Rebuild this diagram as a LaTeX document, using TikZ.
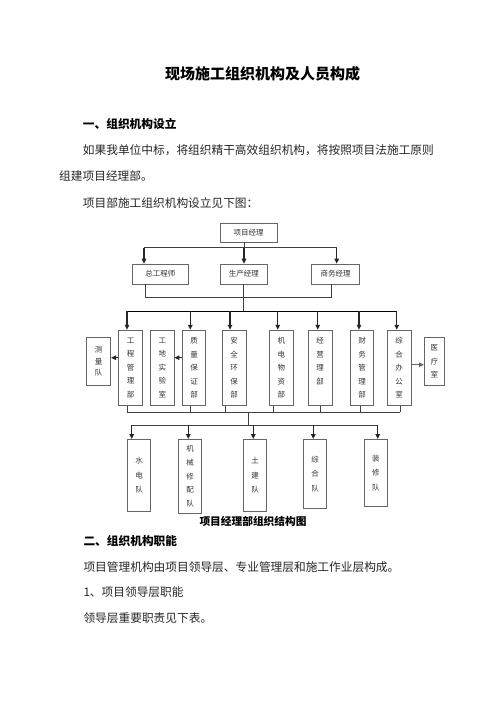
\documentclass[tikz,border=0pt]{standalone}
\usepackage{fontspec}
\setmainfont{Noto Sans CJK SC}
\usetikzlibrary{arrows.meta}

\begin{document}
\begin{tikzpicture}[x=1pt,y=-1pt]
   \tikzset{box/.style={draw=black!60,line width=0.6pt,inner sep=0pt,text=black!80,
      font=\fontsize{7.5}{9}\selectfont,minimum height=20pt}}
   \tikzset{vbox/.style={box,align=center,minimum width=23.5pt,minimum height=75.3pt,
      font=\fontsize{7.5}{13.5}\selectfont}}
   \tikzset{tbox/.style={box,align=center,minimum width=23.4pt,
      font=\fontsize{7.5}{14.5}\selectfont}}
   \tikzset{line/.style={draw=black!75,line width=0.6pt}}
   \tikzset{arr/.style={draw=black!85,line width=1.3pt,-{Triangle[length=5pt,width=4.5pt]}}}
   \tikzset{txt/.style={anchor=west,inner sep=0pt,text=black!85,font=\fontsize{11.7}{12}\selectfont}}
   \fill[white] (0,0) rectangle (496,702);
   \useasboundingbox (0,0) rectangle (496,702);
   % text above
   \node[inner sep=0pt,font=\fontsize{15}{15}\selectfont\bfseries] (title) at (262.5,73.3) {现场施工组织机构及人员构成};
   \node[txt,font=\fontsize{11.7}{12}\selectfont\bfseries,text=black] (h1) at (82.7,124) {一、组织机构设立};
   \node[txt] (p1) at (82.7,150) {如果我单位中标，将组织精干高效组织机构，将按照项目法施工原则};
   \node[txt] (p2) at (59,176) {组建项目经理部。};
   \node[txt] (p3) at (82.7,202.7) {项目部施工组织机构设立见下图：};
   % leaders
   \node[box,minimum width=57pt,minimum height=19pt] (pm) at (248.5,232.5) {项目经理};
   \node[box,minimum width=55.3pt] (zg) at (160.3,274) {总工程师};
   \node[box,minimum width=46.7pt] (sc) at (243.8,274) {生产经理};
   \node[box,minimum width=47.7pt] (sw) at (335.5,274) {商务经理};
   % departments
   \node[vbox] (gc) at (130.5,367.7) {工\\程\\管\\理\\部};
   \node[vbox] (sy) at (162.3,367.7) {工\\地\\实\\验\\室};
   \node[vbox] (zl) at (194,367.7) {质\\量\\保\\证\\部};
   \node[vbox] (aq) at (234.2,367.7) {安\\全\\环\\保\\部};
   \node[vbox] (jd) at (281.3,367.7) {机\\电\\物\\资\\部};
   \node[vbox] (jy) at (320.2,367.7) {经\\营\\理\\部\\~};
   \node[vbox] (cw) at (362,367.7) {财\\务\\管\\理\\部};
   \node[vbox] (zh) at (399.2,367.7) {综\\合\\办\\公\\室};
   \node[vbox,minimum width=24pt,minimum height=47.7pt,font=\fontsize{7.5}{11.5}\selectfont] (cl) at (98.7,361.2) {测\\量\\队};
   \node[vbox,minimum width=20pt,minimum height=48.4pt] (yl) at (434.3,361.5) {医\\疗\\室};
   % teams
   \node[tbox,minimum height=72.4pt] (sd) at (139,475.5) {水\\电\\队};
   \node[tbox,minimum height=74pt,font=\fontsize{7.5}{13.7}\selectfont] (jx) at (190,476.3) {机\\械\\修\\配\\队};
   \node[tbox,minimum height=72.4pt] (tj) at (255,475.5) {土\\建\\队};
   \node[tbox,minimum height=69pt] (zd) at (315,473.8) {综\\合\\队};
   \node[tbox,minimum height=67.4pt] (zx) at (375.8,473) {装\\修\\队};
   \node[inner sep=0pt,font=\fontsize{10.7}{11}\selectfont\bfseries] (cap) at (253,521) {项目经理部组织结构图};
   % text below
   \node[txt,font=\fontsize{11.7}{12}\selectfont\bfseries,text=black] (h2) at (83.3,540.7) {二、组织机构职能};
   \node[txt] (p4) at (83.3,566.7) {项目管理机构由项目领导层、专业管理层和施工作业层构成。};
   \node[txt] (p5) at (83.3,592.3) {1、项目领导层职能};
   \node[txt] (p6) at (83.3,618.3) {领导层重要职责见下表。};
   % pm to leaders
   \coordinate (b1) at (144,247.7);
   \coordinate (b2) at (244,247.7);
   \coordinate (b3) at (336.7,247.7);
   \draw[line] (pm.south -| b2) -- (b2);
   \draw[line] (b1) -- (b3);
   \draw[arr] (b1) -- (b1 |- zg.north);
   \draw[arr] (b2) -- (b2 |- sc.north);
   \draw[arr] (b3) -- (b3 |- sw.north);
   % leaders to departments
   \coordinate (c1) at (145,297);
   \coordinate (c2) at (243,297);
   \coordinate (c3) at (331.7,297);
   \coordinate (c4) at (243,311);
   \draw[line] (zg.south -| c1) -- (c1) -- (c3) -- (sw.south -| c3);
   \draw[line] (sc.south -| c2) -- (c4);
   \coordinate (d1) at (127,311);
   \coordinate (d2) at (190.3,311);
   \coordinate (d3) at (230,311);
   \coordinate (d4) at (277.7,311);
   \coordinate (d5) at (317.7,311);
   \coordinate (d6) at (359,311);
   \coordinate (d7) at (396.7,311);
   \draw[line,draw=black,line width=1pt] (d1) -- (d7);
   \draw[arr] (d1) -- (d1 |- gc.north);
   \draw[arr] (d2) -- (d2 |- zl.north);
   \draw[arr] (d3) -- (d3 |- aq.north);
   \draw[arr] (d4) -- (d4 |- jd.north);
   \draw[arr] (d5) -- (d5 |- jy.north);
   \draw[arr] (d6) -- (d6 |- cw.north);
   \draw[arr] (d7) -- (d7 |- zh.north);
   % side arrows
   \coordinate (s1) at ([yshift=10pt]gc.west);
   \coordinate (s2) at ([yshift=10pt]zl.west);
   \coordinate (s3) at ([yshift=3pt]zh.east);
   \draw[arr] (s1) -- (s1 -| cl.east);
   \draw[arr] (s2) -- (s2 -| sy.east);
   \draw[arr,draw=black!60] (s3) -- (s3 -| yl.west);
   % departments to teams
   \coordinate (u1) at (127,412);
   \coordinate (u2) at (190.3,412);
   \coordinate (u3) at (225.3,412);
   \coordinate (u4) at (273.3,412);
   \coordinate (u5) at (320,412);
   \coordinate (u6) at (360,412);
   \coordinate (u7) at (400,412);
   \draw[line] (u1) -- (u7);
   \draw[line] (u1 |- gc.south) -- (u1);
   \draw[line] (u2 |- zl.south) -- (u2);
   \draw[line] (u3 |- aq.south) -- (u3);
   \draw[line] (u4 |- jd.south) -- (u4);
   \draw[line] (u5 |- jy.south) -- (u5);
   \draw[line] (u6 |- cw.south) -- (u6);
   \draw[line] (u7 |- zh.south) -- (u7);
   \coordinate (v1) at (248.3,412);
   \coordinate (v2) at (248.3,425);
   \draw[line] (v1) -- (v2);
   \coordinate (e1) at (131.7,425);
   \coordinate (e2) at (188.3,425);
   \coordinate (e3) at (253.3,425);
   \coordinate (e4) at (313.3,425);
   \coordinate (e5) at (377.7,425);
   \draw[line] (e1) -- (e5);
   \draw[arr] (e1) -- (e1 |- sd.north);
   \draw[arr] (e2) -- (e2 |- jx.north);
   \draw[arr] (e3) -- (e3 |- tj.north);
   \draw[arr] (e4) -- (e4 |- zd.north);
   \draw[arr] (e5) -- (e5 |- zx.north);
\end{tikzpicture}
\end{document}
